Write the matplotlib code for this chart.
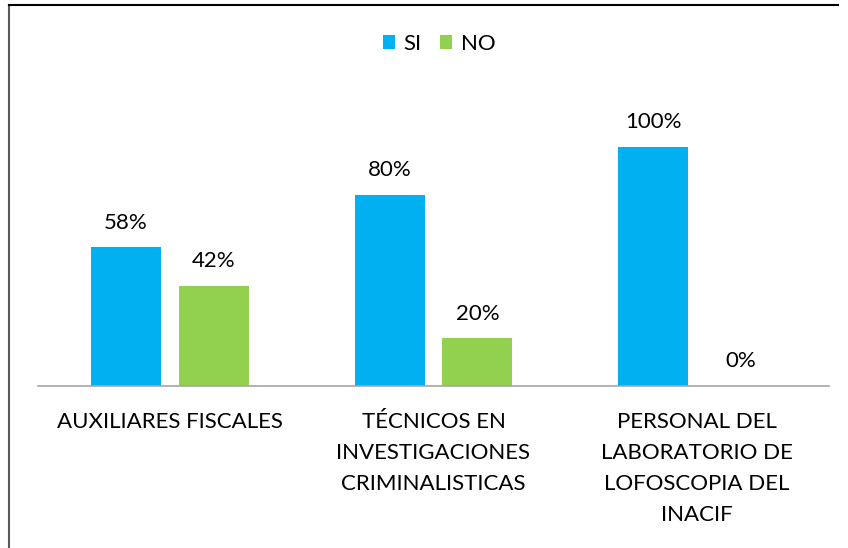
import matplotlib
matplotlib.use("Agg")
import matplotlib.pyplot as plt
from matplotlib.lines import Line2D
import numpy as np

categories = ["AUXILIARES FISCALES",
              "TÉCNICOS EN\nINVESTIGACIONES\nCRIMINALISTICAS",
              "PERSONAL DEL\nLABORATORIO DE\nLOFOSCOPIA DEL\nINACIF"]
si_values = [0.58, 0.80, 1.00]
no_values = [0.42, 0.20, 0.00]
series_names = ["SI", "NO"]

plt.rcParams["font.family"] = ["Lato", "DejaVu Sans"]

fig = plt.figure(figsize=(8.48, 5.48), dpi=100)
W, H = 848, 548
# ejes: línea base en y=386, de x=38 a x=829
ax = fig.add_axes([38 / W, 1 - 386 / H, (829 - 38) / W, (386 - 99) / H])

x = np.arange(len(categories))
bw = 70 / 263.7
gap = 18 / 263.7
off = (bw + gap) / 2
b1 = ax.bar(x - off, si_values, bw, color="#00B0F0", label=series_names[0])
b2 = ax.bar(x + off, no_values, bw, color="#92D050", label=series_names[1])

for bars in (b1, b2):
    for r in bars:
        v = r.get_height()
        ax.annotate(f"{v*100:.0f}%", (r.get_x() + r.get_width() / 2, v),
                    xytext=(0, 10.5), textcoords="offset points",
                    ha="center", va="bottom", fontsize=16, color="#000000")

ax.set_xlim(-0.5, len(categories) - 0.5)
ax.set_ylim(0, 1.2)
ax.set_yticks([])
ax.set_xticks(x)
ax.set_xticklabels(categories, fontsize=16, linespacing=1.68, va="top")
ax.tick_params(axis="x", length=0, pad=19)
for s in ["top", "right", "left"]:
    ax.spines[s].set_visible(False)
ax.spines["bottom"].set_color("#A6A6A6")
ax.spines["bottom"].set_linewidth(1.2)

fig.legend(handles=[b1, b2], loc="center", bbox_to_anchor=(439 / W, 1 - 44 / H),
           ncol=2, frameon=False, fontsize=16, handlelength=0.55,
           handleheight=0.55, handletextpad=0.4, columnspacing=0.8)

# borde del gráfico (izquierda y arriba)
fig.add_artist(Line2D([9 / W, 9 / W], [0, 1 - 5 / H], color="#595959", lw=1.5))
fig.add_artist(Line2D([9 / W, 838 / W], [1 - 5 / H, 1 - 5 / H], color="#000000", lw=1.5))

fig.savefig("out.png", dpi=100)
